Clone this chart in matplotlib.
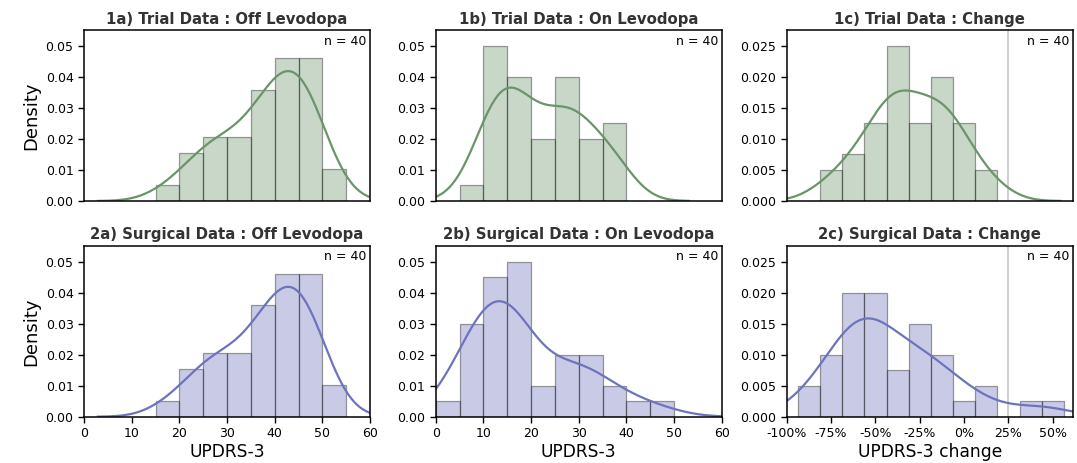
import matplotlib
matplotlib.use("Agg")
import matplotlib.pyplot as plt
import numpy as np
import seaborn as sns
from matplotlib.ticker import FuncFormatter, FormatStrFormatter

# UPDRS-3 scores (one missing value in the off-levodopa series)
trial_off = [17, 21, 23, 24, 26, 27, 28, 29, 30, 31, 33, 34,
             35, 36, 37, 37, 38, 39, 39, 40, 41, 41, 42, 42, 43, 43, 44, 44,
             45, 45, 46, 46, 47, 47, 48, 48, 49, 50, 52]
surgical_off = list(trial_off)

trial_on = [8, 10, 11, 11, 12, 12, 13, 13, 14, 14, 14,
            15, 16, 17, 17, 18, 18, 19, 19, 20, 22, 23, 24,
            25, 26, 27, 27, 28, 28, 29, 29, 30, 31, 32, 34,
            35, 36, 37, 38, 39]
surgical_on = [3, 5, 6, 7, 7, 8, 9, 10, 10, 11, 11, 12, 12, 13, 13, 14,
               15, 15, 15, 16, 16, 16, 17, 17, 18, 19, 21, 23,
               25, 27, 28, 29, 30, 31, 32, 34, 36, 38, 42, 47]

# change values (1 unit = 1.25 % on the axis)
trial_change = [-64, -58, -53, -50, -47, -44, -42, -40, -38, -36,
                -35, -34, -33, -32, -31, -30, -29, -28, -27, -26,
                -24, -22, -20, -18, -16, -15, -14, -12, -11, -10, -9, -8, -6,
                -5, -3, -1, 1, 3, 10, 14]
surgical_change = [-72, -68, -63, -60, -58, -56, -54, -52, -50, -49, -48, -47,
                   -46, -46, -45, -44, -43, -42, -41, -40, -39, -37,
                   -34, -32, -30, -24, -23, -22, -21, -19, -17,
                   -14, -12, -10, -8, -2, 5, 9, 31, 38]
PCT_PER_UNIT = 1.25
CHANGE_LINE = 20

titles = ["1a) Trial Data : Off Levodopa", "1b) Trial Data : On Levodopa",
          "1c) Trial Data : Change",
          "2a) Surgical Data : Off Levodopa", "2b) Surgical Data : On Levodopa",
          "2c) Surgical Data : Change"]
datasets = [trial_off, trial_on, trial_change,
            surgical_off, surgical_on, surgical_change]
bins = [np.arange(15, 56, 5), np.arange(5, 41, 5), np.arange(-65, 16, 10),
        np.arange(15, 56, 5), np.arange(0, 51, 5), np.arange(-75, 46, 10)]
green = "#6b946b"
purple = "#6e73bd"

fig = plt.figure(figsize=(10.77, 4.63), dpi=100)
lefts = [0.078, 0.4046, 0.7305]
bottoms = [0.5659, 0.100]
w, h = 0.2656, 0.3683

for i in range(6):
    r, c = divmod(i, 3)
    ax = fig.add_axes([lefts[c], bottoms[r], w, h])
    col = green if r == 0 else purple
    data = datasets[i]
    ax.hist(data, bins=bins[i], density=True, color=col, alpha=0.37,
            edgecolor="black", linewidth=0.9)
    sns.kdeplot(x=data, ax=ax, color=col, linewidth=1.6, cut=3, bw_adjust=1.1)
    ax.set_title(titles[i], fontsize=10.7, fontweight="bold", color="#333333", pad=5)
    ax.text(0.988, 0.975, "n = 40", transform=ax.transAxes, ha="right", va="top",
            fontsize=9)
    if c < 2:
        ax.set_xlim(0, 60)
        ax.set_xticks(range(0, 61, 10))
        ax.set_ylim(0, 0.055)
        ax.set_yticks(np.arange(0, 0.051, 0.01))
        ax.yaxis.set_major_formatter(FormatStrFormatter("%.2f"))
    else:
        ax.axvline(CHANGE_LINE, color="#cccccc", linewidth=1.3, zorder=0)
        ax.set_xlim(-80, 49)
        ax.set_xticks(range(-80, 41, 20))
        ax.xaxis.set_major_formatter(FuncFormatter(lambda v, p: f"{v * PCT_PER_UNIT:.0f}%"))
        ax.set_ylim(0, 0.0275)
        ax.set_yticks(np.arange(0, 0.0251, 0.005))
        ax.yaxis.set_major_formatter(FormatStrFormatter("%.3f"))
    ax.tick_params(labelsize=9, length=4, width=1)
    for s in ax.spines.values():
        s.set_linewidth(1.1)
    ax.set_ylabel("Density" if c == 0 else "", fontsize=13)
    if r == 0:
        ax.tick_params(axis="x", bottom=False, labelbottom=False)
        ax.set_xlabel("")
    else:
        ax.set_xlabel("UPDRS-3 change" if c == 2 else "UPDRS-3", fontsize=12.3, labelpad=2)

fig.savefig("out.png", dpi=100)
